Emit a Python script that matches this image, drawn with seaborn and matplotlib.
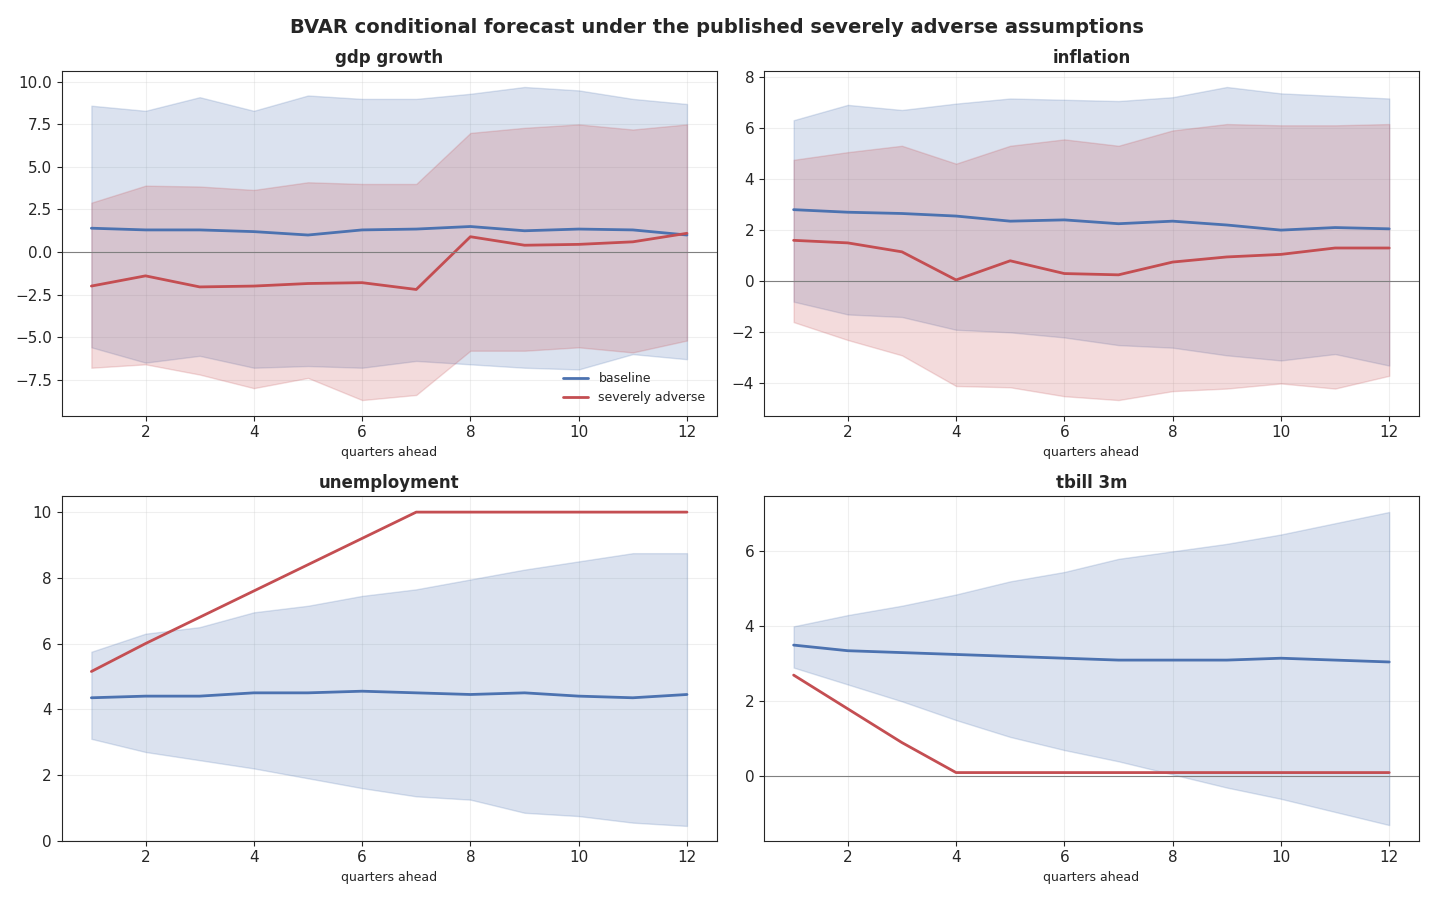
import numpy as np
import matplotlib
matplotlib.use("Agg")
from matplotlib import pyplot as plt
import seaborn as sns

quarters = list(range(1, 13))

# gdp growth
gdp_base = [1.4, 1.3, 1.3, 1.2, 1.0, 1.3, 1.35, 1.5, 1.25, 1.35, 1.3, 1.0]
gdp_base_hi = [8.6, 8.3, 9.1, 8.3, 9.2, 9.0, 9.0, 9.3, 9.7, 9.5, 9.0, 8.7]
gdp_base_lo = [-5.6, -6.5, -6.1, -6.8, -6.7, -6.8, -6.4, -6.6, -6.8, -6.9, -6.0, -6.3]
gdp_adv = [-2.0, -1.4, -2.05, -2.0, -1.85, -1.8, -2.2, 0.9, 0.4, 0.45, 0.6, 1.1]
gdp_adv_hi = [2.9, 3.9, 3.85, 3.65, 4.1, 4.0, 4.0, 7.0, 7.3, 7.5, 7.2, 7.5]
gdp_adv_lo = [-6.8, -6.6, -7.2, -8.0, -7.4, -8.7, -8.4, -5.8, -5.8, -5.6, -5.9, -5.2]

# inflation
inf_base = [2.8, 2.7, 2.65, 2.55, 2.35, 2.4, 2.25, 2.35, 2.2, 2.0, 2.1, 2.05]
inf_base_hi = [6.3, 6.9, 6.7, 6.95, 7.15, 7.1, 7.05, 7.2, 7.6, 7.35, 7.25, 7.15]
inf_base_lo = [-0.8, -1.3, -1.4, -1.9, -2.0, -2.2, -2.5, -2.6, -2.9, -3.1, -2.85, -3.3]
inf_adv = [1.6, 1.5, 1.15, 0.05, 0.8, 0.3, 0.25, 0.75, 0.95, 1.05, 1.3, 1.3]
inf_adv_hi = [4.75, 5.05, 5.3, 4.6, 5.3, 5.55, 5.3, 5.9, 6.15, 6.1, 6.1, 6.15]
inf_adv_lo = [-1.6, -2.3, -2.9, -4.1, -4.15, -4.5, -4.65, -4.3, -4.2, -4.0, -4.2, -3.7]

# unemployment
une_base = [4.35, 4.4, 4.4, 4.5, 4.5, 4.55, 4.5, 4.45, 4.5, 4.4, 4.35, 4.45]
une_base_hi = [5.75, 6.3, 6.5, 6.95, 7.15, 7.45, 7.65, 7.95, 8.25, 8.5, 8.75, 8.75]
une_base_lo = [3.1, 2.7, 2.45, 2.2, 1.9, 1.6, 1.35, 1.25, 0.85, 0.75, 0.55, 0.45]
une_adv = [5.15, 6.0, 6.8, 7.6, 8.4, 9.2, 10, 10, 10, 10, 10, 10]

# tbill 3m
tb_base = [3.5, 3.35, 3.3, 3.25, 3.2, 3.15, 3.1, 3.1, 3.1, 3.15, 3.1, 3.05]
tb_base_hi = [4.0, 4.3, 4.55, 4.85, 5.2, 5.45, 5.8, 6.0, 6.2, 6.45, 6.75, 7.05]
tb_base_lo = [2.9, 2.45, 2.0, 1.5, 1.05, 0.7, 0.4, 0.05, -0.3, -0.6, -0.95, -1.3]
tb_adv = [2.7, 1.8, 0.9, 0.1, 0.1, 0.1, 0.1, 0.1, 0.1, 0.1, 0.1, 0.1]

panels = [
    ("gdp growth", gdp_base, gdp_base_lo, gdp_base_hi, gdp_adv, gdp_adv_lo, gdp_adv_hi),
    ("inflation", inf_base, inf_base_lo, inf_base_hi, inf_adv, inf_adv_lo, inf_adv_hi),
    ("unemployment", une_base, une_base_lo, une_base_hi, une_adv, None, None),
    ("tbill 3m", tb_base, tb_base_lo, tb_base_hi, tb_adv, None, None),
]

sns.set_style("ticks")
blue, red = "#4C72B0", "#C44E52"

fig, axes = plt.subplots(2, 2, figsize=(14.34, 8.99), dpi=100)
for ax, (name, b, blo, bhi, a, alo, ahi) in zip(axes.flat, panels):
    ax.fill_between(quarters, blo, bhi, color=blue, alpha=0.2)
    if alo is not None:
        ax.fill_between(quarters, alo, ahi, color=red, alpha=0.2)
    sns.lineplot(x=quarters, y=b, ax=ax, color=blue, lw=2, label="baseline")
    sns.lineplot(x=quarters, y=a, ax=ax, color=red, lw=2, label="severely adverse")
    ax.axhline(0, color="grey", lw=0.8)
    ax.grid(True, alpha=0.3)
    ax.set_title(name, fontsize=12, fontweight="bold")
    ax.set_xlabel("quarters ahead", fontsize=9)
    ax.tick_params(labelsize=11)
    if name == "gdp growth":
        ax.legend(loc="lower right", frameon=False, fontsize=9)
    else:
        ax.get_legend().remove()
    if name == "unemployment":
        ax.set_ylim(0, 10.48)

fig.suptitle("BVAR conditional forecast under the published severely adverse assumptions",
             fontsize=14, fontweight="bold")
fig.tight_layout()
fig.savefig("out.png")
